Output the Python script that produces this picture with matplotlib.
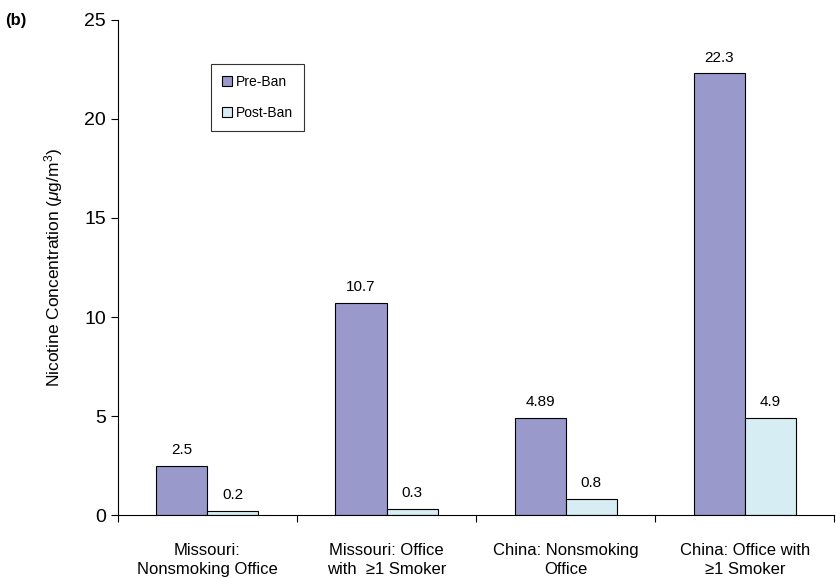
import matplotlib
matplotlib.use('Agg')
import matplotlib.pyplot as plt
import numpy as np

plt.rcParams['font.family'] = ['Liberation Sans', 'DejaVu Sans']
plt.rcParams['mathtext.fontset'] = 'custom'
plt.rcParams['mathtext.rm'] = 'Liberation Sans'
plt.rcParams['mathtext.it'] = 'Liberation Sans:italic'

categories = ["Missouri:\nNonsmoking Office", "Missouri: Office\nwith  \u22651 Smoker",
              "China: Nonsmoking\nOffice", "China: Office with\n\u22651 Smoker"]
pre_ban = [2.5, 10.7, 4.89, 22.3]
post_ban = [0.2, 0.3, 0.8, 4.9]
pre_labels = ["2.5", "10.7", "4.89", "22.3"]
post_labels = ["0.2", "0.3", "0.8", "4.9"]

fig = plt.figure(figsize=(8.36, 5.79), dpi=100)
ax = fig.add_axes([0.141, 0.1105, 0.857, 0.855])

x = np.arange(len(categories))
w = 0.285
b1 = ax.bar(x - w / 2, pre_ban, width=w, color='#9999cc', edgecolor='black', linewidth=0.8, label='Pre-Ban')
b2 = ax.bar(x + w / 2, post_ban, width=w, color='#d5edf3', edgecolor='black', linewidth=0.8, label='Post-Ban')

for rect, lab in zip(b1, pre_labels):
    ax.text(rect.get_x() + rect.get_width() / 2, rect.get_height() + 0.45, lab,
            ha='center', va='bottom', fontsize=11)
for rect, lab in zip(b2, post_labels):
    ax.text(rect.get_x() + rect.get_width() / 2, rect.get_height() + 0.45, lab,
            ha='center', va='bottom', fontsize=11)

ax.set_xlim(-0.5, 3.5)
ax.set_ylim(0, 25)
ax.set_yticks([0, 5, 10, 15, 20, 25])
ax.set_xticks([-0.5, 0.5, 1.5, 2.5, 3.5])
ax.set_xticklabels([])
ax.set_xticks(x, minor=True)
ax.set_xticklabels(categories, minor=True, fontsize=12, linespacing=1.35)
ax.tick_params(axis='x', which='minor', length=0, pad=20)
ax.tick_params(axis='x', which='major', length=5, direction='out')
ax.tick_params(axis='y', labelsize=14, length=5)
for s in ['top', 'right']:
    ax.spines[s].set_visible(False)

ax.set_ylabel(r'Nicotine Concentration ($\mu$g/m$^3$)', fontsize=12.5, labelpad=14)

leg = ax.legend(loc='upper left', bbox_to_anchor=(0.12, 0.925), fontsize=10,
                frameon=True, fancybox=False, edgecolor='black', handlelength=0.7,
                handleheight=0.7, handletextpad=0.3, labelspacing=1.2, borderpad=0.8)
leg.get_frame().set_linewidth(0.8)

fig.text(0.006, 0.965, '(b)', fontsize=12, fontweight='bold', va='center')

fig.savefig('out.png', dpi=100)
